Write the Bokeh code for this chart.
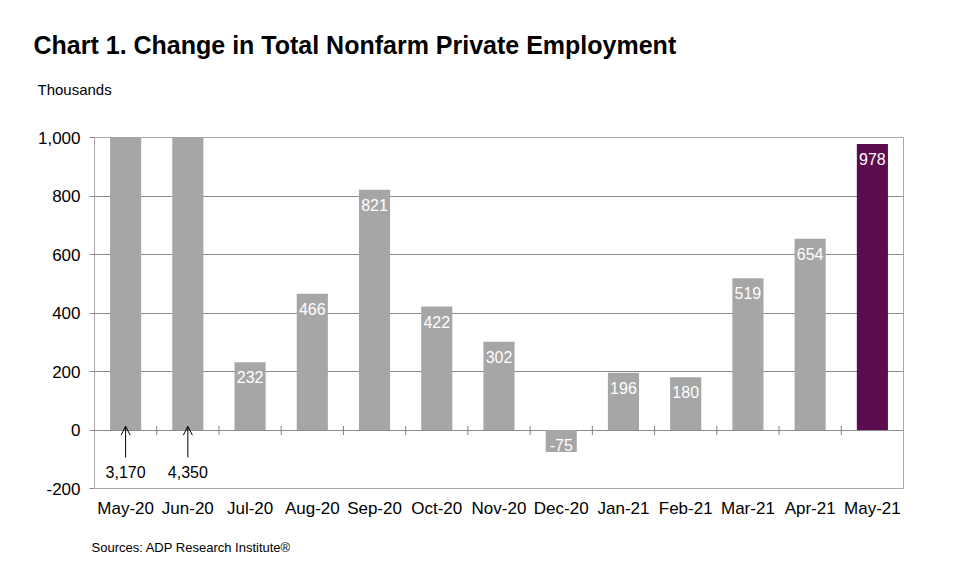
from bokeh.plotting import figure
from bokeh.layouts import column
from bokeh.models import (FactorRange, Range1d, FixedTicker, NumeralTickFormatter,
                          ColumnDataSource, Label, Arrow, OpenHead)
from bokeh.core.properties import value
from bokeh.embed import file_html
from bokeh.resources import INLINE

# ---- data ----
months = ["May-20", "Jun-20", "Jul-20", "Aug-20", "Sep-20", "Oct-20", "Nov-20",
          "Dec-20", "Jan-21", "Feb-21", "Mar-21", "Apr-21", "May-21"]
values = [3170, 4350, 232, 466, 821, 422, 302, -75, 196, 180, 519, 654, 978]
highlight = "May-21"
y_ticks = [-200, 0, 200, 400, 600, 800, 1000]
y_min, y_max = -200, 1000

title_text = "Chart 1. Change in Total Nonfarm Private Employment"
unit_text = "Thousands"
source_text = "Sources: ADP Research Institute\u00ae"

# ---- layout ----
W, H = 944, 555
HEAD, FOOT = 110, 30            # header / footer strip heights
L, R, T, B = 94, 903, 137, 488  # frame edges (page px)
FONT = "Liberation Sans"
GRAY = "#A6A6A6"
PURPLE = "#5B0C4F"

n = len(months)
px_per_y = (B - T) / (y_max - y_min)


def strip(height):
    f = figure(width=W, height=height, x_range=Range1d(0, W), y_range=Range1d(height, 0),
               output_backend="svg", toolbar_location=None, min_border=0)
    f.frame_align = False
    f.axis.visible = False
    f.grid.visible = False
    f.outline_line_color = None
    f.background_fill_color = "white"
    f.border_fill_color = "white"
    return f


# header strip with title + unit label (pixel coordinates, y downwards)
head = strip(HEAD)
head.text(x=[33], y=[44], text=[title_text], text_font=value(FONT),
          text_font_size="25px", text_font_style="bold", text_color="black",
          text_align="left", text_baseline="middle")
head.text(x=[37], y=[89], text=[unit_text], text_font=value(FONT),
          text_font_size="15px", text_color="black",
          text_align="left", text_baseline="middle")

MAIN_H = H - HEAD - FOOT
p = figure(width=W, height=MAIN_H, x_range=FactorRange(*months, range_padding=0),
           y_range=Range1d(y_min, y_max), output_backend="svg",
           toolbar_location=None, min_border_left=L, min_border_right=W - R,
           min_border_top=T - HEAD, min_border_bottom=HEAD + MAIN_H - B)
p.frame_align = False
p.background_fill_color = "white"
p.border_fill_color = "white"
p.outline_line_color = "#A8A8A8"
p.outline_line_width = 1

# grid
p.xgrid.grid_line_color = None
p.ygrid.ticker = FixedTicker(ticks=y_ticks)
p.ygrid.grid_line_color = "#8A8A8A"
p.ygrid.grid_line_width = 1

# bars
colors = [PURPLE if m == highlight else GRAY for m in months]
src = ColumnDataSource(dict(x=months, top=values, color=colors))
p.vbar(x="x", top="top", bottom=0, width=0.5, fill_color="color",
       line_color=None, source=src)

# boundary tick marks on zero line
bx = list(range(1, n))
p.segment(x0=bx, y0=[-5 / px_per_y] * len(bx), x1=bx, y1=[4 / px_per_y] * len(bx),
          line_color="#808080", line_width=1)

# value labels inside bars
lab_x, lab_y, lab_t = [], [], []
for i, v in enumerate(values):
    if v < y_max:
        lab_x.append(months[i])
        lab_y.append(v - 15 / px_per_y if v > 0 else v + 7 / px_per_y)
        lab_t.append(f"{v:,}")
p.text(x=lab_x, y=lab_y, text=lab_t, text_color="white", text_font=value(FONT),
       text_font_size="16px", text_align="center", text_baseline="middle")

# off-scale values: arrows + labels
for i, v in enumerate(values):
    if v > y_max:
        xc = i + 0.5
        p.add_layout(Arrow(end=OpenHead(size=9, line_width=1, line_color="black"),
                           x_start=xc, y_start=-94, x_end=xc, y_end=13,
                           line_color="black", line_width=1))
        p.add_layout(Label(x=xc, y=-145, text=f"{v:,}", text_font=FONT,
                           text_font_size="16px", text_align="center",
                           text_baseline="middle", text_color="black"))

# axes
p.xaxis.axis_line_color = None
p.xaxis.major_tick_line_color = None
p.xaxis.major_tick_out = 0
p.xaxis.major_tick_in = 0
p.xaxis.major_label_standoff = 10
p.xaxis.major_label_text_font = FONT
p.xaxis.major_label_text_font_size = "17px"
p.xaxis.major_label_text_color = "black"

p.yaxis.ticker = FixedTicker(ticks=y_ticks)
p.yaxis.formatter = NumeralTickFormatter(format="0,0")
p.yaxis.axis_line_color = None
p.yaxis.major_tick_line_color = "#8A8A8A"
p.yaxis.major_tick_out = 5
p.yaxis.major_tick_in = 0
p.yaxis.minor_tick_line_color = None
p.yaxis.major_label_standoff = 9
p.yaxis.major_label_text_font = FONT
p.yaxis.major_label_text_font_size = "17px"
p.yaxis.major_label_text_color = "black"

# footer strip with source note
foot = strip(FOOT)
foot.text(x=[91], y=[547 - HEAD - MAIN_H], text=[source_text], text_font=value(FONT),
          text_font_size="13px", text_color="black",
          text_align="left", text_baseline="middle")

layout = column(head, p, foot, spacing=0)
open("out.html", "w").write(file_html(layout, INLINE))
